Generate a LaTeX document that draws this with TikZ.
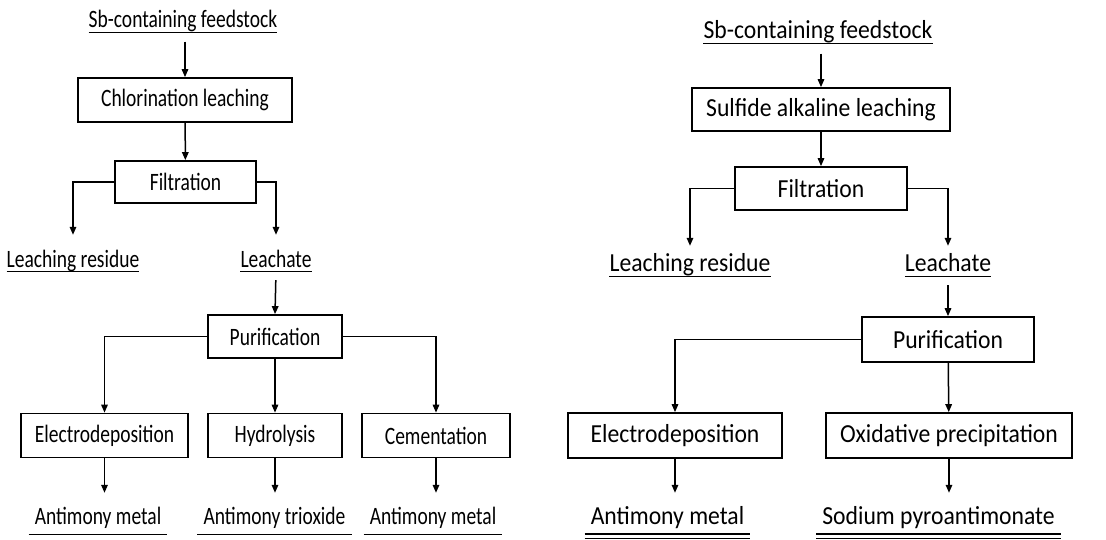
\documentclass[tikz,border=0pt]{standalone}
\usepackage{fontspec}
\setmainfont{Carlito}
\newfontfamily\leftfont[FakeStretch=0.78]{Carlito}
\newfontfamily\rightfont[FakeStretch=0.91]{Carlito}
\usetikzlibrary{arrows.meta}

\tikzset{
  proc/.style={draw, line width=1.7pt, inner sep=0pt, minimum height=44pt},
  flow/.style={-{Triangle[length=8pt,width=6.5pt]}, line width=1.5pt},
  stream/.style={inner sep=0pt, text height=12pt, text depth=4.5pt, anchor=base},
  outp/.style={inner ysep=0pt, inner xsep=6pt, text height=12pt, text depth=10pt, anchor=base},
}

\begin{document}
\begin{tikzpicture}[x=1pt, y=-1pt]
  \useasboundingbox (0,0) rectangle (1106,540);

  % chlorination route
  \begin{scope}[font=\leftfont\fontsize{25}{29}\selectfont]
    \node[stream] (feedL) at (183,28) {Sb-containing feedstock};
    \node[proc, minimum width=214pt] (chlor) at (185,100) {Chlorination leaching};
    \node[proc, minimum width=141pt, minimum height=42pt] (filtL) at (185.5,182) {Filtration};
    \node[stream] (resL) at (73,267) {Leaching residue};
    \node[stream] (leachL) at (276,267) {Leachate};
    \node[proc, minimum width=134pt, minimum height=43pt] (purL) at (275,336.5) {Purification};
    \node[proc, minimum width=167pt] (elecL) at (104.5,435.5) {Electrodeposition};
    \node[proc, minimum width=134pt] (hydro) at (275,435.5) {Hydrolysis};
    \node[proc, minimum width=148pt] (cement) at (436,435.5) {Cementation};
    \node[outp] (metalA) at (98,524.5) {Antimony metal};
    \node[outp] (trioxide) at (274.5,524.5) {Antimony trioxide};
    \node[outp] (metalB) at (433,524.5) {Antimony metal};

    \draw[flow] (chlor.north |- feedL.south) ++(0,9) -- (chlor.north);
    \draw[flow] (chlor) -- (filtL);
    \draw[flow, shorten >=20pt] (filtL.west) -| (resL.north);
    \draw[flow, shorten >=20pt] (filtL.east) -| (leachL.north);
    \draw[flow, shorten <=8.5pt] (leachL.south) -- (purL.north);
    \draw[flow] (purL.west) -| (elecL.north);
    \draw[flow] (purL) -- (hydro);
    \draw[flow] (purL.east) -| (cement.north);
    \draw[flow, shorten >=19.5pt] (elecL.south) -- (elecL.south |- metalA.north);
    \draw[flow, shorten >=19.5pt] (hydro.south) -- (hydro.south |- trioxide.north);
    \draw[flow, shorten >=19.5pt] (cement.south) -- (cement.south |- metalB.north);
    \foreach \p in {feedL, resL, leachL}
      \draw[line width=1.1pt] (\p.south west) -- (\p.south east);
    \foreach \p in {metalA, trioxide, metalB}
      \draw[line width=1.5pt] (\p.south west) -- (\p.south east);
  \end{scope}

  % sulfide alkaline route
  \begin{scope}[font=\rightfont\fontsize{26}{30}\selectfont]
    \node[stream] (feedR) at (818,39) {Sb-containing feedstock};
    \node[proc, minimum width=258pt, minimum height=43pt] (sulf) at (821,109.5) {Sulfide alkaline leaching};
    \node[proc, minimum width=172pt, minimum height=43pt] (filtR) at (821,188.5) {Filtration};
    \node[stream] (resR) at (690,272) {Leaching residue};
    \node[stream] (leachR) at (948,272) {Leachate};
    \node[proc, minimum width=172pt, minimum height=45pt] (purR) at (948,339.5) {Purification};
    \node[proc, minimum width=214pt, minimum height=45pt] (elecR) at (675,435.5) {Electrodeposition};
    \node[proc, minimum width=246pt, minimum height=45pt] (oxid) at (949,435.5) {Oxidative precipitation};
    \node[outp] (metalR) at (667.5,524) {Antimony metal};
    \node[outp] (pyro) at (938.5,524) {Sodium pyroantimonate};

    \draw[flow] (sulf.north |- feedR.south) ++(0,10) -- (sulf.north);
    \draw[flow] (sulf) -- (filtR);
    \draw[flow, shorten >=14pt] (filtR.west) -| (resR.north);
    \draw[flow, shorten >=14pt] (filtR.east) -| (leachR.north);
    \draw[flow, shorten <=8.5pt] (leachR.south) -- (purR.north);
    \draw[flow] (purR.west) -| (elecR.north);
    \draw[flow] (purR) -- (oxid);
    \draw[flow, shorten >=19pt] (elecR.south) -- (elecR.south |- metalR.north);
    \draw[flow, shorten >=19pt] (oxid.south) -- (oxid.south |- pyro.north);
    \foreach \p in {feedR, resR, leachR}
      \draw[line width=1.1pt] (\p.south west) -- (\p.south east);
    \foreach \p in {metalR, pyro} {
      \draw[line width=1.5pt] (\p.south west) -- (\p.south east);
      \draw[line width=1pt] ([yshift=-4.5pt]\p.south west) -- ([yshift=-4.5pt]\p.south east);
    }
  \end{scope}
\end{tikzpicture}
\end{document}
